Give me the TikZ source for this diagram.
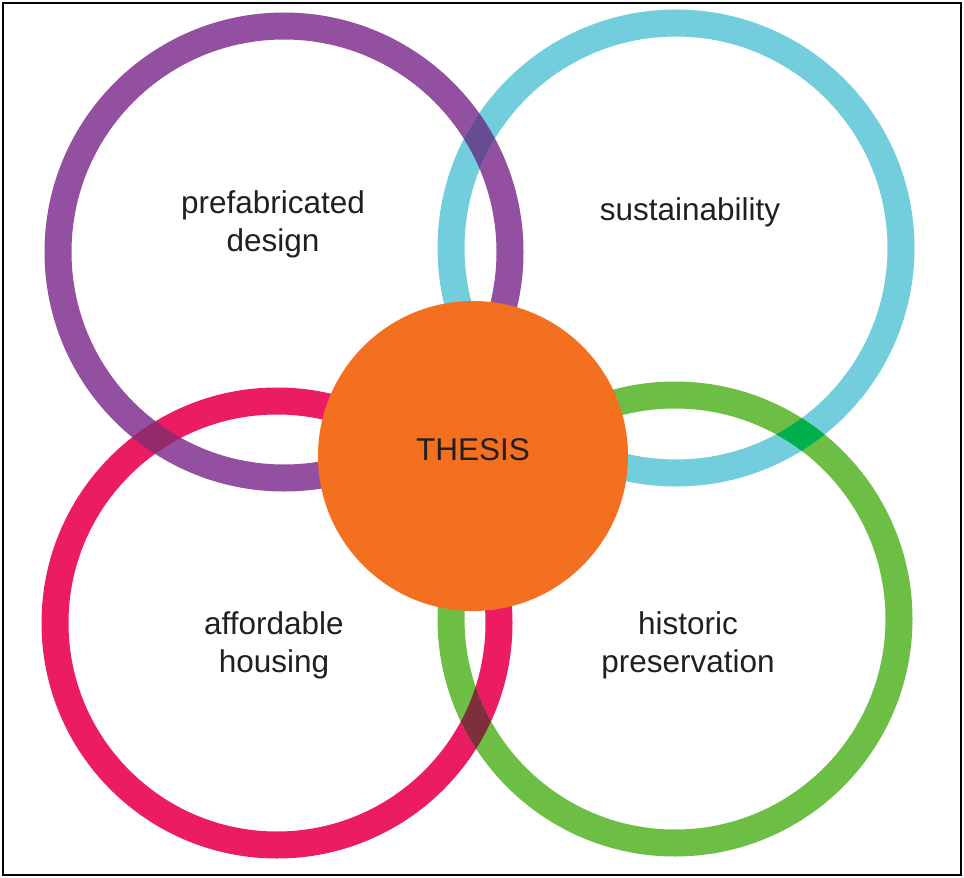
\documentclass[tikz,border=0pt]{standalone}
\usepackage{fontspec}
\setmainfont{Liberation Sans}
\usepackage{tikz}

\definecolor{ringpurple}{RGB}{148,80,160}
\definecolor{ringcyan}{RGB}{114,206,221}
\definecolor{ringpink}{RGB}{236,28,100}
\definecolor{ringgreen}{RGB}{109,190,69}
\definecolor{huborange}{RGB}{243,112,33}
\definecolor{mixpc}{RGB}{103,76,148}
\definecolor{mixpp}{RGB}{149,42,106}
\definecolor{mixcg}{RGB}{0,176,79}
\definecolor{mixpg}{RGB}{126,47,59}
\definecolor{txtgray}{RGB}{35,31,32}

\tikzset{
  ring/.style={draw=#1, line width=27pt},
  topic/.style={text=txtgray, align=center, font=\fontsize{31.5}{38}\selectfont},
  hub/.style={circle, fill=huborange, minimum size=310pt, inner sep=0pt}
}

\begin{document}
\begin{tikzpicture}[x=1pt,y=-1pt]
    \useasboundingbox (0,0) rectangle (964,878);
    \draw [line width=2.5pt] (3,3) rectangle (961,875);

    \coordinate (P) at (284,252);
    \coordinate (C) at (676,248);
    \coordinate (K) at (277,623);
    \coordinate (G) at (675,619);

    \draw [ring=ringpurple] (P) circle [radius=226pt];
    \draw [ring=ringcyan] (C) circle [radius=225pt];
    \draw [ring=ringpink] (K) circle [radius=222pt];
    \draw [ring=ringgreen] (G) circle [radius=224pt];

    % darker patches where two rings cross
    \begin{scope}[even odd rule]
        \clip (P) circle [radius=239.5pt] circle [radius=212.5pt];
        \draw [ring=mixpc] (C) circle [radius=225pt];
        \draw [ring=mixpp] (K) circle [radius=222pt];
    \end{scope}
    \begin{scope}[even odd rule]
        \clip (G) circle [radius=237.5pt] circle [radius=210.5pt];
        \draw [ring=mixcg] (C) circle [radius=225pt];
        \draw [ring=mixpg] (K) circle [radius=222pt];
    \end{scope}

    \node (thesis) [hub] at (473,456) {};
    \node [topic] at (473,450) {THESIS};

    \node (pre) [topic] at (273,224) {prefabricated\\design};
    \node (sus) [topic] at (690,212) {sustainability};
    \node (aff) [topic] at (274,645) {affordable\\housing};
    \node (his) [topic] at (688,645) {historic\\preservation};
\end{tikzpicture}
\end{document}
